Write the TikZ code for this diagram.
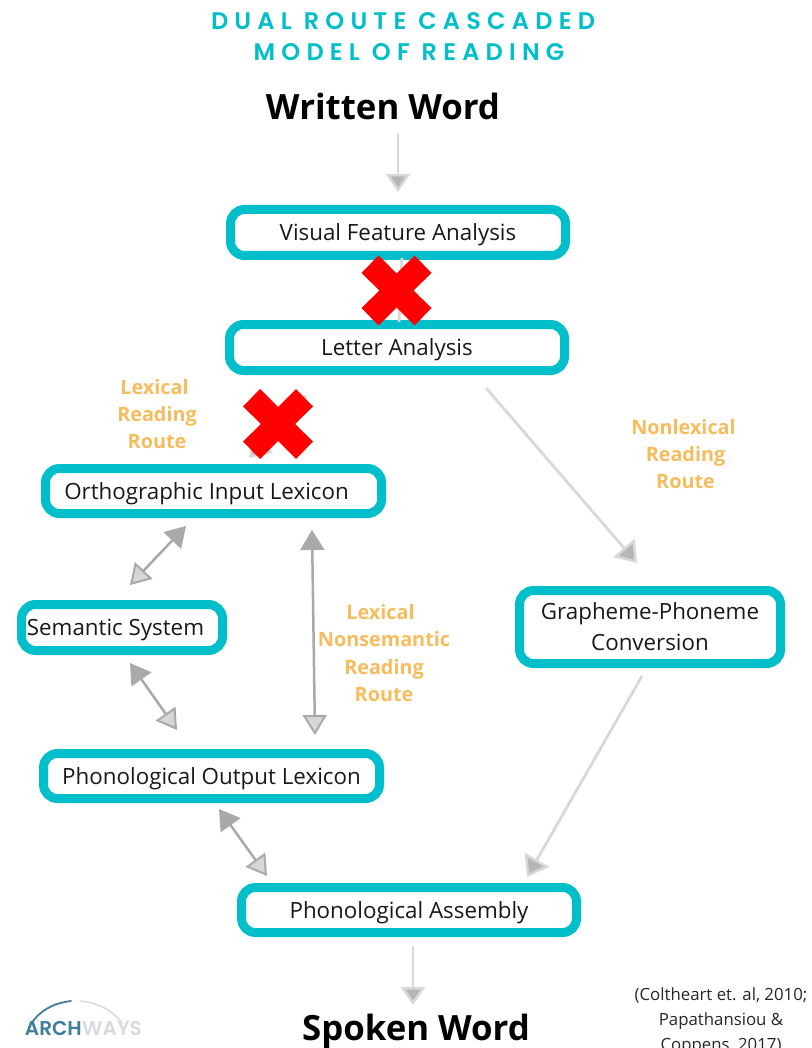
\documentclass[tikz,border=0pt]{standalone}
\usepackage{fontspec}
\setmainfont{Open Sans}
\newfontfamily\titlefont[LetterSpace=26]{Poppins SemiBold}
\newfontfamily\boldfont{Open Sans Bold}
\newfontfamily\logofont{Poppins SemiBold}
\usetikzlibrary{arrows.meta}
\definecolor{teal1}{HTML}{00BFCB}
\definecolor{route}{HTML}{F6BC5E}
\definecolor{arrowdark}{HTML}{A9A9A9}
\definecolor{arrowlight}{HTML}{D8D8D8}
\definecolor{tipfill}{HTML}{D6D6D6}
\definecolor{logoblue}{HTML}{3F7F9B}
\definecolor{logogray}{HTML}{D9DADD}
\newcommand\lowtext[1]{\raisebox{-8pt}[0pt][0pt]{#1}}
\tikzset{
  x=1pt,y=-1pt,
  box/.style={draw=teal1,line width=9pt,rounded corners=14pt,fill=white,align=center,inner sep=0pt,font=\fontsize{22.35}{31}\selectfont,text=black!90},
  routelabel/.style={text=route,align=center,font=\fontsize{19.8}{27.3}\selectfont\bfseries},
  headline/.style={font=\boldfont\fontsize{34.8}{40}\selectfont,inner sep=0pt},
  titleline/.style={text=teal1,font=\titlefont\fontsize{24}{32}\selectfont,inner sep=0pt},
  softarrow/.style={draw=arrowlight,line width=2.8pt,-{Triangle[length=18pt,width=24pt,fill=arrowdark!85,color=arrowlight,line width=2.5pt]}},
  softlong/.style={draw=arrowlight,line width=2.8pt,-{Triangle[length=20pt,width=28pt,fill=arrowdark!85,color=arrowlight,line width=2.5pt]}},
  twoway/.style={draw=arrowdark,line width=2.5pt,{Triangle[length=20pt,width=24pt,fill=arrowdark,color=arrowdark]}-{Triangle[length=20pt,width=24pt,fill=tipfill,color=arrowdark,line width=2pt]}},
  redcross/.pic={\fill[red] (-18,-35)--(0,-17)--(18,-35)--(35,-17.5)--(17,0)--(35,17.5)--(18,35)--(0,17)--(-18,35)--(-35,17.5)--(-17,0)--(-35,-17.5)--cycle;}
}
\begin{document}
\begin{tikzpicture}
\useasboundingbox[fill=white] (0,0) rectangle (811,1048);
\node[titleline] (t1) at (403,21) {DUAL ROUTE CASCADED};
\node[titleline] (t2) at (409,52) {MODEL OF READING};
\node[headline] (written) at (383,106) {Written Word};
\node[headline] (spoken) at (416,1031) {Spoken Word};

\node[box,minimum width=335pt,minimum height=46pt] (visual) at (398,232.5) {\lowtext{Visual Feature Analysis}};
\node[box,minimum width=335pt,minimum height=46pt] (letter) at (397,347.5) {\lowtext{Letter Analysis}};
\node[box,minimum width=336pt,minimum height=45pt] (ortho) at (213.5,491) {\hspace*{-14pt}\lowtext{Orthographic Input Lexicon}};
\node[box,minimum width=201pt,minimum height=46pt] (semantic) at (122,627.5) {\hspace*{-13pt}\lowtext{Semantic System}};
\node[box,minimum width=336pt,minimum height=45pt] (phonout) at (211.5,776) {\lowtext{Phonological Output Lexicon}};
\node[box,minimum width=261pt,minimum height=73pt] (gpc) at (650,627) {Grapheme-Phoneme\\Conversion};
\node[box,minimum width=335pt,minimum height=45pt] (assembly) at (409,910) {\lowtext{Phonological Assembly}};

\node[routelabel] (lexroute) at (157,414) {\hspace*{-5pt}Lexical\\Reading\\Route};
\node[routelabel] (nonlex) at (685.5,454) {\hspace*{-4pt}Nonlexical\\Reading\\Route};
\node[routelabel] (lexnon) at (384,653) {\hspace*{-7pt}Lexical\\Nonsemantic\\Reading\\Route};
\node[align=center,font=\fontsize{16.8}{24.7}\selectfont,text=black!85] (cite) at (721,1021) {(Coltheart et. al, 2010;\\Papathansiou \&\\Coppens, 2017)};

\coordinate (a1) at (398,133);
\coordinate (a1e) at (398,192);
\coordinate (a2) at (402,258);
\coordinate (a2e) at (399,322);
\coordinate (a3) at (306,396);
\coordinate (a3e) at (249,458);
\coordinate (a4) at (486,388);
\coordinate (a4e) at (637,563);
\coordinate (a5) at (642,676);
\coordinate (a5e) at (527,877);
\coordinate (a6) at (413,946);
\coordinate (a6e) at (413,1005);
\coordinate (b1) at (186,526);
\coordinate (b1e) at (130,585);
\coordinate (b2) at (312,530);
\coordinate (b2e) at (315,735);
\coordinate (b3) at (130,663);
\coordinate (b3e) at (177,730);
\coordinate (b4) at (219,809);
\coordinate (b4e) at (267,876);

\draw[softarrow] (a1) -- (a1e);
\draw[softlong] (a3) -- (a3e);
\draw[draw=arrowlight,line width=2.8pt] (a2) -- (a2e);
\draw[softlong] (a4) -- (a4e);
\draw[softlong] (a5) -- (a5e);
\draw[softarrow] (a6) -- (a6e);
\draw[twoway] (b1) -- (b1e);
\draw[twoway] (b2) -- (b2e);
\draw[twoway] (b3) -- (b3e);
\draw[twoway] (b4) -- (b4e);

\pic at (396.5,290.5) {redcross};
\pic at (278,424) {redcross};

\draw[logoblue,line width=1.8pt,line cap=round] (31,1024) .. controls (40,1010) and (54,1003) .. (71,1001);
\draw[logogray,line width=1.5pt,line cap=round] (81,1001) .. controls (100,1003) and (114,1012) .. (122,1023);
\node[anchor=east,inner sep=0pt,text=logoblue,font=\logofont\fontsize{20}{20}\selectfont] (arch) at (82,1028) {ARCH};
\node[anchor=west,inner sep=0pt,text=logogray,font=\logofont\fontsize{20}{20}\selectfont] (ways) at (arch.east) {WAYS};
\end{tikzpicture}
\end{document}
